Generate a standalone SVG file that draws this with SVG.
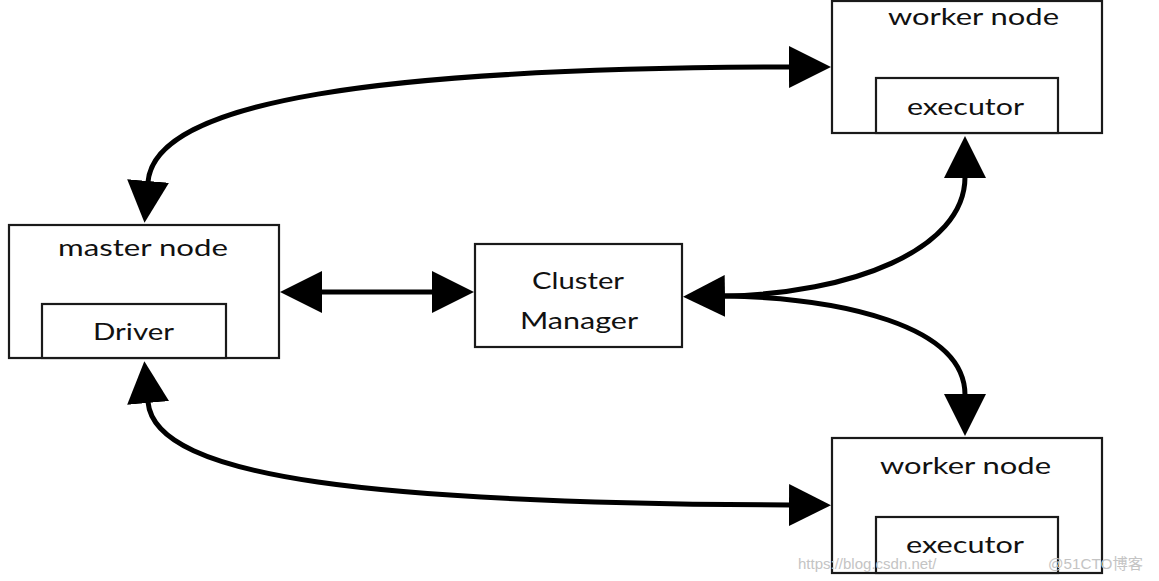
<svg xmlns="http://www.w3.org/2000/svg" width="1159" height="581" viewBox="0 0 1159 581">
<style>
.box{fill:#ffffff;stroke:#1a1a1a;stroke-width:2.2}
.lbl{font-family:Lato,"Open Sans","Liberation Sans",sans-serif;font-size:24px;fill:#111;text-anchor:middle}
.conn{fill:none;stroke:#000;stroke-width:5}
.wm{font-family:"Liberation Sans","Noto Sans CJK SC",sans-serif;font-size:15px;fill:#c4c4c4}
</style>
<defs>
<marker id="ah" viewBox="0 0 42 42" markerWidth="42" markerHeight="42" markerUnits="userSpaceOnUse" refX="1" refY="21" orient="auto-start-reverse">
<path d="M0,0 L42,21 L0,42 Z" fill="#000"/>
</marker>
</defs>
<rect width="1159" height="581" fill="#ffffff"/>
<g id="worker-top">
<rect class="box" x="832" y="1" width="270" height="132"/>
<text class="lbl" x="973.5" y="25" textLength="171" lengthAdjust="spacingAndGlyphs">worker node</text>
<g id="executor-top">
<rect class="box" x="876" y="78" width="182" height="55"/>
<text class="lbl" x="965.5" y="115" textLength="117" lengthAdjust="spacingAndGlyphs">executor</text>
</g>
</g>
<g id="master">
<rect class="box" x="9" y="225" width="270" height="133"/>
<text class="lbl" x="143" y="256" textLength="170" lengthAdjust="spacingAndGlyphs">master node</text>
<g id="driver">
<rect class="box" x="42" y="304" width="184" height="54"/>
<text class="lbl" x="133.5" y="340" textLength="81" lengthAdjust="spacingAndGlyphs">Driver</text>
</g>
</g>
<g id="cluster-manager">
<rect class="box" x="475" y="244" width="207" height="103"/>
<text class="lbl" x="578" y="289" textLength="92" lengthAdjust="spacingAndGlyphs">Cluster</text>
<text class="lbl" x="579" y="329" textLength="118" lengthAdjust="spacingAndGlyphs">Manager</text>
</g>
<g id="worker-bottom">
<rect class="box" x="832" y="438" width="270" height="135"/>
<text class="lbl" x="965.5" y="474" textLength="171" lengthAdjust="spacingAndGlyphs">worker node</text>
<g id="executor-bottom">
<rect class="box" x="876" y="517" width="182" height="56"/>
<text class="lbl" x="965" y="553" textLength="118" lengthAdjust="spacingAndGlyphs">executor</text>
</g>
</g>
<g id="connectors">
<path class="conn" d="M148,182 C155,100 380,68 790,67" marker-start="url(#ah)" marker-end="url(#ah)"/>
<path class="conn" d="M148,402 C155,480 380,503 790,505" marker-start="url(#ah)" marker-end="url(#ah)"/>
<path class="conn" d="M321,292 L433,292" marker-start="url(#ah)" marker-end="url(#ah)"/>
<path class="conn" d="M724,296 C850,294 965,250 965,177" marker-start="url(#ah)" marker-end="url(#ah)"/>
<path class="conn" d="M724,296 C840,298 965,325 965,395" marker-end="url(#ah)"/>
</g>
<g id="watermark">
<text class="wm" x="798" y="569">https://blog.csdn.net/</text>
<text class="wm" x="1048" y="569" textLength="95" lengthAdjust="spacingAndGlyphs">@51CTO博客</text>
</g>
</svg>
